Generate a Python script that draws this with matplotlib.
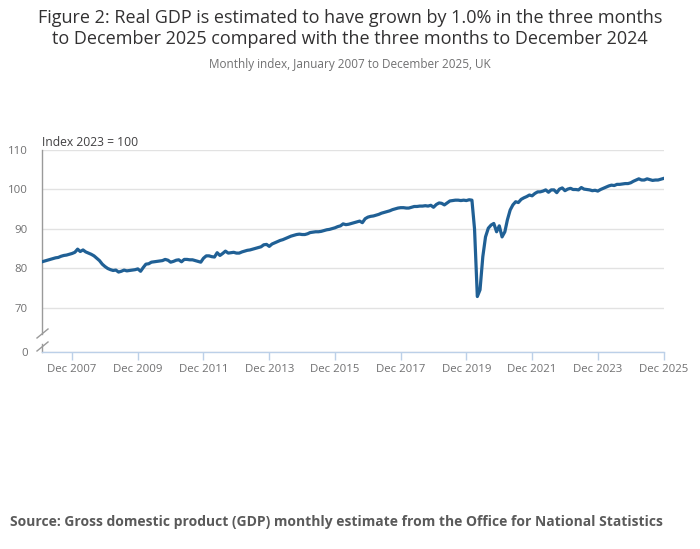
import pandas as pd
import matplotlib
matplotlib.use("Agg")
import matplotlib.pyplot as plt
import matplotlib.dates as mdates

plt.rcParams['font.family'] = ['Open Sans', 'DejaVu Sans']

# Monthly real GDP index, 2023 = 100 (Jan 2007 - Dec 2025)
months = pd.date_range("2007-01-01", "2025-12-01", freq="MS")
gdp_index = [
    # 2007
    81.7, 81.9, 82.1, 82.3, 82.5, 82.7, 82.8, 83.1, 83.3, 83.4, 83.6, 83.8,
    # 2008
    84.1, 84.9, 84.3, 84.7, 84.2, 83.9, 83.6, 83.2, 82.6, 82.0, 81.1, 80.5,
    # 2009
    80.0, 79.7, 79.5, 79.6, 79.1, 79.3, 79.6, 79.4, 79.5, 79.6, 79.7, 79.9,
    # 2010
    79.3, 80.3, 81.1, 81.2, 81.6, 81.7, 81.8, 81.9, 82.0, 82.3, 82.1, 81.6,
    # 2011
    81.8, 82.1, 82.2, 81.7, 82.3, 82.3, 82.2, 82.2, 82.0, 81.8, 81.6, 82.6,
    # 2012
    83.2, 83.2, 83.0, 82.9, 84.0, 83.3, 83.8, 84.4, 83.9, 84.0, 84.1, 83.9,
    # 2013
    83.9, 84.2, 84.4, 84.6, 84.7, 84.9, 85.1, 85.3, 85.5, 86.0, 86.1, 85.6,
    # 2014
    86.2, 86.5, 86.8, 87.1, 87.3, 87.6, 87.9, 88.2, 88.4, 88.6, 88.7, 88.6,
    # 2015
    88.6, 88.8, 89.1, 89.2, 89.3, 89.3, 89.4, 89.6, 89.8, 89.9, 90.1, 90.3,
    # 2016
    90.6, 90.8, 91.3, 91.1, 91.2, 91.4, 91.6, 91.8, 92.0, 91.6, 92.6, 93.0,
    # 2017
    93.2, 93.3, 93.5, 93.7, 94.0, 94.2, 94.4, 94.6, 94.9, 95.1, 95.3, 95.4,
    # 2018
    95.4, 95.3, 95.3, 95.5, 95.7, 95.7, 95.8, 95.8, 95.9, 95.8, 96.0, 95.5,
    # 2019
    96.2, 96.6, 96.5, 96.1, 96.6, 97.1, 97.2, 97.3, 97.3, 97.2, 97.3, 97.2,
    # 2020
    97.4, 97.3, 90.0, 72.9, 74.6, 83.0, 88.0, 90.2, 91.0, 91.4, 89.3, 90.8,
    # 2021
    88.0, 89.3, 92.3, 94.8, 96.1, 96.9, 96.7, 97.5, 97.9, 98.2, 98.6, 98.4,
    # 2022
    99.0, 99.4, 99.4, 99.6, 99.9, 99.3, 99.9, 99.9, 99.2, 100.1, 100.4, 99.7,
    # 2023
    100.1, 100.3, 100.0, 100.0, 99.9, 100.5, 100.1, 100.0, 99.9, 99.7, 99.8, 99.6,
    # 2024
    100.0, 100.3, 100.6, 100.9, 101.1, 101.0, 101.3, 101.3, 101.4, 101.5, 101.5, 101.7,
    # 2025
    102.1, 102.4, 102.7, 102.4, 102.4, 102.7, 102.5, 102.3, 102.4, 102.4, 102.6, 102.8,
]

y_ticks = [70, 80, 90, 100, 110]
tick_years = list(range(2007, 2026, 2))

# broken axis: the "0" label sits at the bottom of the axis
y_bottom = 58.86

fig = plt.figure(figsize=(7, 5.49), dpi=100)
ax = fig.add_axes([42 / 700, 1 - 352 / 549, 622 / 700, 202 / 549])

ax.plot(months, gdp_index, color='#206095', linewidth=2.3, solid_joinstyle='round', zorder=3)

ax.set_ylim(y_bottom, 110)
ax.set_xlim(months[0], months[-1] + pd.Timedelta(days=5))
ax.set_yticks([y_bottom] + y_ticks)
ax.set_yticklabels(['0'] + [str(t) for t in y_ticks])
ax.yaxis.grid(True, color='#e2e2e2', linewidth=1)
ax.set_axisbelow(True)

ax.set_xticks([pd.Timestamp(f"{y}-12-01") for y in tick_years])
ax.xaxis.set_major_formatter(mdates.DateFormatter('Dec %Y'))

ax.tick_params(axis='y', length=0, pad=10, labelsize=8.2, labelcolor='#707071')
ax.tick_params(axis='x', length=6, width=1, color='#bcd0e8', pad=3,
               labelsize=8.2, labelcolor='#707071')

for s in ['top', 'right']:
    ax.spines[s].set_visible(False)
ax.spines['bottom'].set_color('#bcd0e8')
ax.spines['bottom'].set_linewidth(1)
ax.spines['left'].set_color('#9a9a9a')
ax.spines['left'].set_linewidth(1)
ax.spines['left'].set_bounds(63.5, 110)

# axis break marks
h = 202
for y0 in [(352 - 338) / h, (352 - 351) / h]:
    ax.plot([-5 / 622, 6 / 622], [y0, y0 + 9 / h], transform=ax.transAxes,
            color='#9a9a9a', linewidth=1, clip_on=False)
ax.plot([0, 0], [0, (352 - 344) / h], transform=ax.transAxes,
        color='#9a9a9a', linewidth=1, clip_on=False)

ax.text(0, 1 + 8 / h, 'Index 2023 = 100', transform=ax.transAxes,
        fontsize=8.7, color='#414042', ha='left', va='center')

fig.text(0.5, 1 - 18 / 549,
         'Figure 2: Real GDP is estimated to have grown by 1.0% in the three months',
         ha='center', va='center', fontsize=13, color='#323132')
fig.text(0.5, 1 - 39 / 549,
         'to December 2025 compared with the three months to December 2024',
         ha='center', va='center', fontsize=13, color='#323132')
fig.text(0.5, 1 - 64 / 549, 'Monthly index, January 2007 to December 2025, UK',
         ha='center', va='center', fontsize=8.5, color='#707071')
fig.text(10 / 700, 1 - 522 / 549,
         'Source: Gross domestic product (GDP) monthly estimate from the Office for National Statistics',
         ha='left', va='center', fontsize=10, fontweight='bold', color='#5a5a5a')

fig.savefig('out.png', dpi=100)
